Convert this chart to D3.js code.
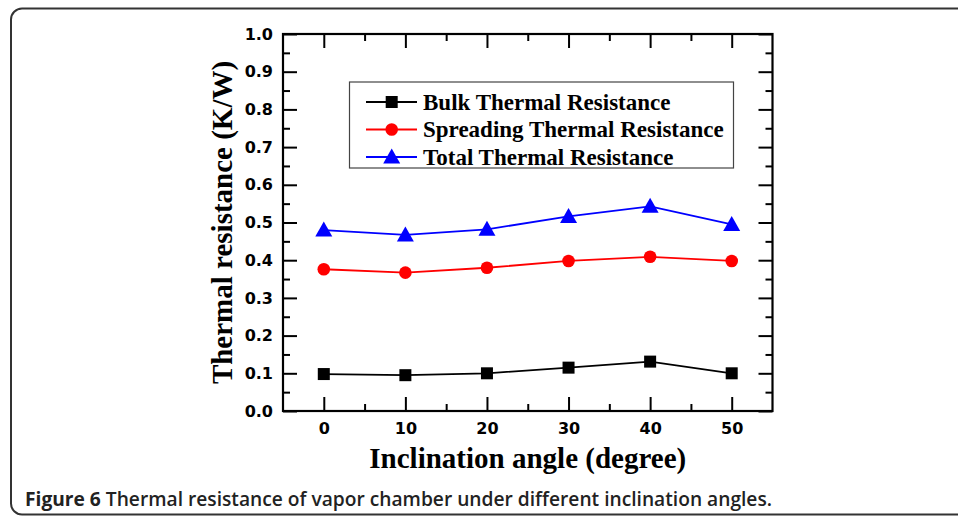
<!DOCTYPE html>
<html>
<head>
<meta charset="utf-8">
<script src="https://cdn.jsdelivr.net/npm/d3@7"></script>
<style>
  html, body { margin: 0; padding: 0; background: #fff; }
  svg { display: block; }
</style>
</head>
<body>
<svg id="chart" width="958" height="518"></svg>
<script>
// ---- data ----
const angles = [0, 10, 20, 30, 40, 50];
const bulk = [0.098, 0.095, 0.100, 0.115, 0.131, 0.100];
const spreading = [0.376, 0.367, 0.380, 0.398, 0.409, 0.398];
const total = [0.480, 0.467, 0.482, 0.516, 0.543, 0.495];
const seriesNames = ["Bulk Thermal Resistance", "Spreading Thermal Resistance", "Total Thermal Resistance"];
const xTicks = [0, 10, 20, 30, 40, 50];
const yTicks = [0.0, 0.1, 0.2, 0.3, 0.4, 0.5, 0.6, 0.7, 0.8, 0.9, 1.0];
const xTitle = "Inclination angle (degree)";
const yTitle = "Thermal resistance (K/W)";
const captionBold = "Figure 6";
const captionText = " Thermal resistance of vapor chamber under different inclination angles.";

(function () {
const svg = d3.select("#chart");

// frame
svg.append("rect")
  .attr("x", 11).attr("y", 8.5)
  .attr("width", 1000).attr("height", 506)
  .attr("rx", 11).attr("ry", 11)
  .attr("fill", "none").attr("stroke", "#333").attr("stroke-width", 2);

const pL = 283, pR = 772.5, pT = 34, pB = 411;
const x = d3.scaleLinear().domain([-5, 55]).range([pL, pR]);
const y = d3.scaleLinear().domain([0, 1]).range([pB, pT]);

const g = svg.append("g");

const majorLen = 14, minorLen = 7;
const xMinor = d3.range(5, 55, 10);
const yMinor = d3.range(0.05, 1.0, 0.1);

function styleAxis(sel) {
  sel.select(".domain").remove();
  sel.selectAll(".tick line").attr("stroke", "#000").attr("stroke-width", 2);
}
const tickFont = s => s.selectAll("text").attr("fill", "#000")
  .style("font-family", "'DejaVu Sans'").style("font-weight", "bold").style("font-size", "16px");

// bottom axis (ticks inward)
g.append("g").attr("transform", `translate(0,${pB})`)
  .call(d3.axisBottom(x).tickValues(xTicks).tickSize(-majorLen).tickPadding(12).tickFormat(d3.format("d")))
  .call(styleAxis).call(tickFont);
g.append("g").attr("transform", `translate(0,${pB})`)
  .call(d3.axisBottom(x).tickValues(xMinor).tickSize(-minorLen).tickFormat(""))
  .call(styleAxis);
// top axis
g.append("g").attr("transform", `translate(0,${pT})`)
  .call(d3.axisTop(x).tickValues(xTicks).tickSize(-majorLen).tickFormat(""))
  .call(styleAxis);
g.append("g").attr("transform", `translate(0,${pT})`)
  .call(d3.axisTop(x).tickValues(xMinor).tickSize(-minorLen).tickFormat(""))
  .call(styleAxis);
// left axis
g.append("g").attr("transform", `translate(${pL},0)`)
  .call(d3.axisLeft(y).tickValues(yTicks).tickSize(-majorLen).tickPadding(10).tickFormat(d3.format(".1f")))
  .call(styleAxis).call(tickFont);
g.append("g").attr("transform", `translate(${pL},0)`)
  .call(d3.axisLeft(y).tickValues(yMinor).tickSize(-minorLen).tickFormat(""))
  .call(styleAxis);
// right axis
g.append("g").attr("transform", `translate(${pR},0)`)
  .call(d3.axisRight(y).tickValues(yTicks).tickSize(-majorLen).tickFormat(""))
  .call(styleAxis);
g.append("g").attr("transform", `translate(${pR},0)`)
  .call(d3.axisRight(y).tickValues(yMinor).tickSize(-minorLen).tickFormat(""))
  .call(styleAxis);

// plot box
g.append("rect").attr("x", pL).attr("y", pT)
  .attr("width", pR - pL).attr("height", pB - pT)
  .attr("fill", "none").attr("stroke", "#000").attr("stroke-width", 2.2);

// series
const series = [
  { name: seriesNames[0], values: bulk, color: "#000000", shape: "square" },
  { name: seriesNames[1], values: spreading, color: "#ff0000", shape: "circle" },
  { name: seriesNames[2], values: total, color: "#0000ff", shape: "triangle" }
];

const triPath = (cx, cy) => {
  const w = 17, h = 15;
  return `M${cx},${cy - h / 2 - 1}L${cx + w / 2},${cy + h / 2 - 1}L${cx - w / 2},${cy + h / 2 - 1}Z`;
};

function drawMarker(sel, shape, cx, cy, color) {
  if (shape === "square") {
    sel.append("rect").attr("x", cx - 6).attr("y", cy - 6).attr("width", 12).attr("height", 12).attr("fill", color);
  } else if (shape === "circle") {
    sel.append("circle").attr("cx", cx).attr("cy", cy).attr("r", 6.3).attr("fill", color);
  } else {
    sel.append("path").attr("d", triPath(cx, cy)).attr("fill", color);
  }
}

const line = d3.line().x(d => x(d[0])).y(d => y(d[1]));
series.forEach(s => {
  const pts = angles.map((a, i) => [a, s.values[i]]);
  const sg = g.append("g");
  sg.append("path").attr("d", line(pts)).attr("fill", "none")
    .attr("stroke", s.color).attr("stroke-width", 1.8);
  pts.forEach(p => drawMarker(sg, s.shape, x(p[0]), y(p[1]), s.color));
});

// legend
const lg = g.append("g");
lg.append("rect").attr("x", 349.5).attr("y", 82).attr("width", 384).attr("height", 86)
  .attr("fill", "#fff").attr("stroke", "#444").attr("stroke-width", 1.2);
series.forEach((s, i) => {
  const cy = 102 + i * 27.5;
  lg.append("line").attr("x1", 366).attr("x2", 417).attr("y1", cy).attr("y2", cy)
    .attr("stroke", s.color).attr("stroke-width", 1.8);
  drawMarker(lg, s.shape, 391.7, cy, s.color);
  lg.append("text").attr("x", 423).attr("y", cy + 7.5)
    .attr("font-family", "'Liberation Serif', 'Times New Roman', serif")
    .attr("font-weight", "bold").attr("font-size", 23).attr("fill", "#000")
    .text(s.name);
});

// axis titles
g.append("text").attr("x", (pL + pR) / 2).attr("y", 468)
  .attr("text-anchor", "middle")
  .attr("font-family", "'Liberation Serif', 'Times New Roman', serif")
  .attr("font-weight", "bold").attr("font-size", 29).attr("fill", "#000")
  .text(xTitle);
g.append("text").attr("transform", `translate(232,${(pT + pB) / 2}) rotate(-90)`)
  .attr("text-anchor", "middle")
  .attr("font-family", "'Liberation Serif', 'Times New Roman', serif")
  .attr("font-weight", "bold").attr("font-size", 29).attr("fill", "#000")
  .text(yTitle);

// caption
const cap = svg.append("text").attr("x", 25).attr("y", 506)
  .attr("font-family", "'Open Sans', 'Noto Sans', sans-serif")
  .attr("font-size", 19.2).attr("fill", "#222");
cap.append("tspan").attr("font-weight", 700).text(captionBold);
cap.append("tspan").attr("font-weight", 600).text(captionText);
})();
</script>
</body>
</html>
